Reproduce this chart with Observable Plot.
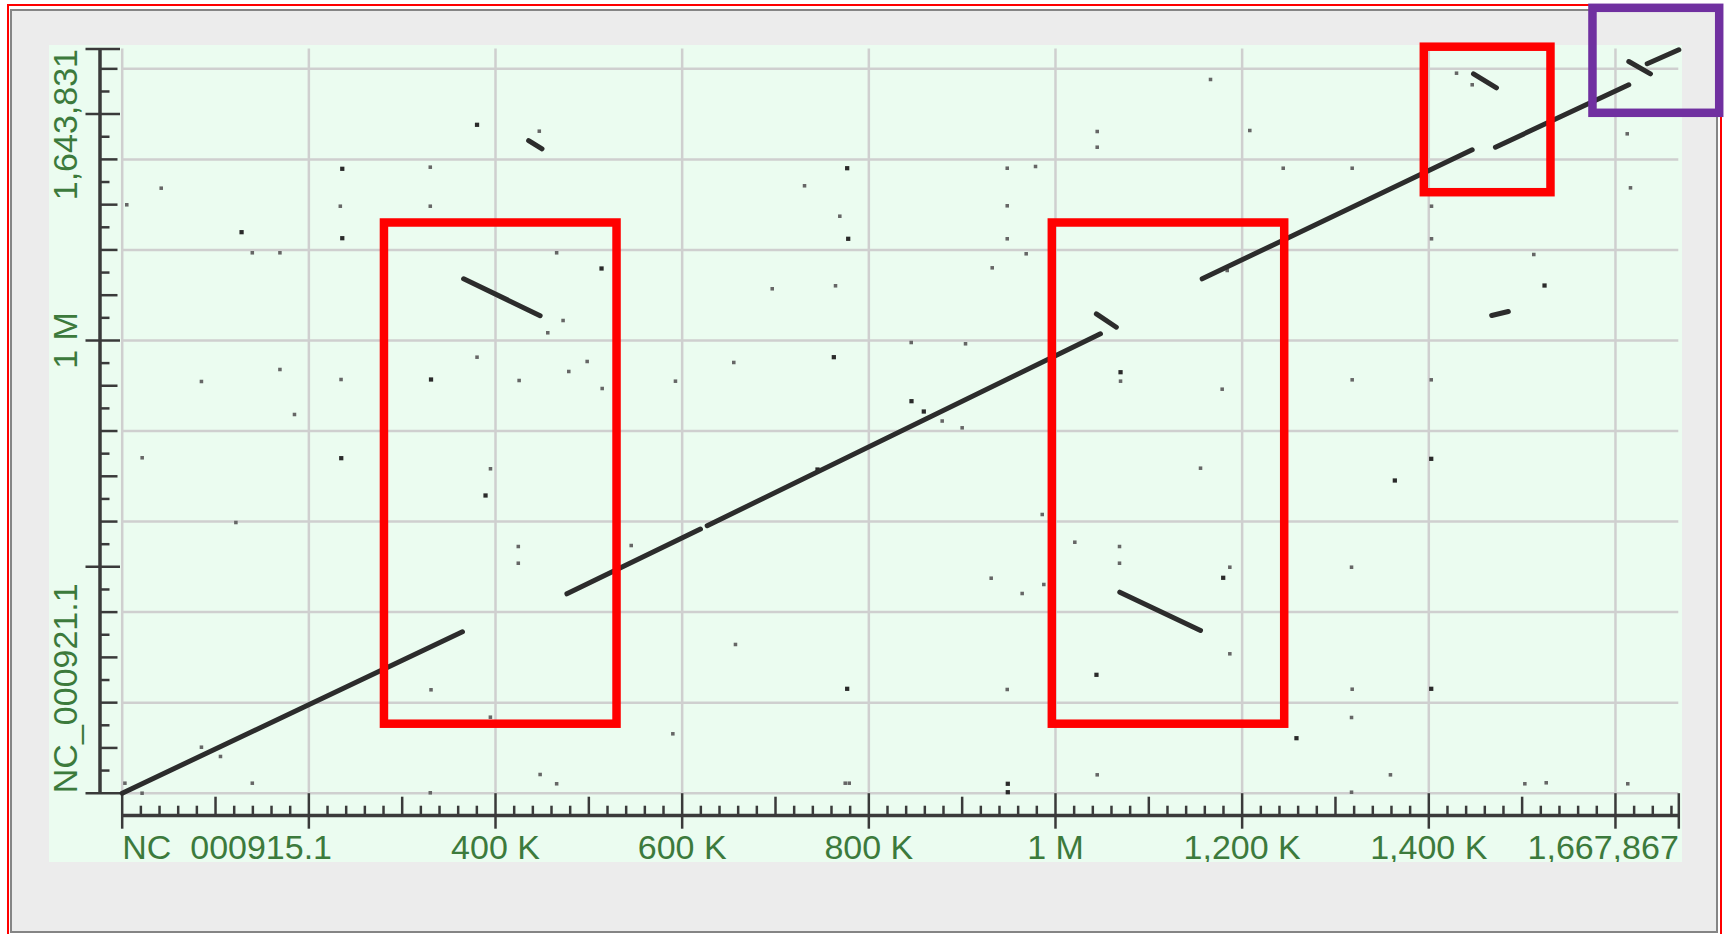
<!DOCTYPE html>
<html>
<head>
<meta charset="utf-8">
<title>NC_000915.1 vs NC_000921.1 dot plot</title>
<script src="https://cdn.jsdelivr.net/npm/d3@7"></script>
<script src="https://cdn.jsdelivr.net/npm/@observablehq/plot@0.6"></script>
<style>
  html, body { margin: 0; padding: 0; background: #ffffff; }
  #stage { position: relative; width: 1731px; height: 934px; overflow: hidden; }
  #outline { position: absolute; box-sizing: border-box; left: 7px; top: 4px; width: 1714.5px; height: 960px; border: 2.7px solid #ff0000; }
  #window { position: absolute; box-sizing: border-box; left: 10px; top: 9px; width: 1707.7px; height: 924.3px; border: 2px solid #858585; background: #ececec; }
  #panel { position: absolute; left: 49px; top: 45px; width: 1633px; height: 817px; background: #ebfcf0; }
  #footer { position: absolute; left: 12px; top: 862px; width: 1703.7px; height: 69px; background: #ececec; }
</style>
</head>
<body>
<div id="stage">
  <div id="outline"></div>
  <div id="window"></div>
  <div id="panel"></div>
</div>
<script>
// Sequence lengths (kb)
const xLength = 1667.867; // NC_000915.1
const yLength = 1643.831; // NC_000921.1

// Grid lines (kb)
const xGrid = [0, 200, 400, 600, 800, 1000, 1200, 1400, 1600];
const yGrid = [0, 200, 400, 600, 800, 1000, 1200, 1400, 1600];

// Axis ticks (kb)
const xMajorTicks = [0, 200, 400, 600, 800, 1000, 1200, 1400, 1600, xLength];
const xMidTicks = [100, 300, 500, 700, 900, 1100, 1300, 1500];
const xMinorTicks = d3.range(20, xLength, 20).filter(v => v % 100 !== 0);
const yMajorTicks = [0, 500, 1000, 1500, yLength];
const yMidTicks = [100, 200, 300, 400, 600, 700, 800, 900, 1100, 1200, 1300, 1400, 1600];
const yMinorTicks = d3.range(50, yLength, 100);

// Tick labels
const xLabelAt = [0, 400, 600, 800, 1000, 1200, 1400, xLength];
const xLabelText = ["NC_000915.1", "400 K", "600 K", "800 K", "1 M", "1,200 K", "1,400 K", "1,667,867"];
const yLabelAt = [0, 1000, yLength];
const yLabelText = ["NC_000921.1", "1 M", "1,643,831"];

// Alignment segments (kb): start and end in each genome
const hitX1 = [0, 476.5, 626.8, 365.8, 1043.8, 1068.9, 1157.2, 1471.4, 1614.3, 1634.0, 1447.9, 1467.4, 435.5];
const hitY1 = [0, 440.4, 590.8, 1136.3, 1058.9, 444.0, 1136.2, 1426.9, 1616.2, 1611.2, 1589.0, 1055.2, 1441.7];
const hitX2 = [364.6, 619.6, 1048.2, 447.8, 1065.2, 1155.4, 1446.5, 1614.3, 1637.5, 1667.9, 1472.5, 1485.2, 449.8];
const hitY2 = [356.5, 583.6, 1014.7, 1054.8, 1029.3, 359.4, 1421.2, 1564.8, 1589.0, 1642.1, 1558.1, 1064.0, 1423.4];

// Short matches (kb)
const spotX = [446.9, 330.1, 41.8, 4.9, 233.7, 330.1, 139.4, 169.0, 465.5, 472.4, 456.0, 380.2, 498.2, 478.5,
  169.0, 84.9, 234.5, 425.3, 514.3, 184.6, 21.4, 394.6, 121.8, 424.4, 424.4, 330.9, 394.5, 84.9, 105.3, 139.4,
  447.8, 465.5, 330.1, 2.9, 21.3, 731.1, 768.9, 696.5, 764.3, 932.2, 845.4, 903.6, 655.3, 592.8, 878.6, 900.0,
  545.4, 931.1, 657.1, 590.0, 774.7, 779.0, 1166.1, 1044.7, 1044.7, 1208.2, 948.3, 978.6, 1244.0, 1317.9, 948.3,
  948.3, 968.6, 1069.7, 1178.6, 1317.9, 1155.4, 985.8, 1020.7, 1068.6, 1068.6, 1186.8, 987.5, 964.3, 1317.2,
  1186.8, 948.3, 1317.9, 1317.2, 1044.7, 1358.9, 1317.2, 1429.7, 1446.5, 1612.6, 1616.1, 1402.9, 1402.9, 1512.5,
  1402.6, 1502.9, 1525.8, 1613.2, 1184.0];
const spotY = [1462.3, 1382.8, 1336.4, 1299.7, 1296.6, 1296.6, 1193.7, 1193.7, 1193.7, 1044.1, 1017.0, 963.1, 953.6, 931.5,
  935.9, 909.4, 913.8, 911.6, 893.9, 836.5, 740.9, 716.6, 597.9, 544.9, 508.0, 228.4, 167.9, 101.6, 81.1, 22.1,
  41.3, 20.8, 0.9, 22.1, 0, 1341.7, 1274.5, 1114.2, 1120.8, 1160.5, 995.5, 992.7, 951.4, 910.1, 822.1, 807.1,
  547.1, 474.9, 328.5, 131.2, 22.1, 22.1, 1576.5, 1461.6, 1426.9, 1463.8, 1380.5, 1384.3, 1380.5, 1380.5, 1297.5,
  1224.6, 1191.5, 910.1, 892.4, 913.1, 717.9, 615.6, 554.4, 544.9, 508.0, 499.2, 461.0, 441.1, 499.2,
  307.9, 229.1, 229.7, 167.2, 40.6, 40.6, 2.2, 1590.4, 1564.8, 1456.5, 1337.2, 1296.6, 1224.6, 1189.9,
  913.1, 20.8, 23.0, 20.8, 1154.6];

// Stronger short matches (kb)
const strongX = [380.2, 235.8, 127.9, 235.8, 513.6, 330.9, 234.7, 389.3, 776.8, 777.9, 762.5, 845.7, 776.8,
  1069.7, 1363.6, 1179.7, 1043.9, 1258.2, 948.9, 948.9, 1524.0, 1402.6, 1402.6, 745.0, 858.9];
const strongY = [1476.4, 1379.2, 1239.2, 1225.9, 1159.0, 913.8, 740.0, 657.6, 1380.5, 1224.6, 963.1, 865.9, 230.6,
  929.9, 690.7, 475.8, 261.5, 121.5, 20.8, 2.2, 1121.4, 738.6, 230.6, 715.0, 843.1];

// Highlighted regions (kb)
const boxX1 = [281.0, 996.6, 1395.2, 1575.9];
const boxX2 = [530.2, 1245.6, 1530.9, 1711.7];
const boxY1 = [152.4, 152.4, 1326.4, 1501.8];
const boxY2 = [1259.5, 1259.5, 1647.8, 1733.7];
const boxColor = ["#ff0000", "#ff0000", "#ff0000", "#7030a0"];

const ink = "#3a3a3a";
const labelInk = "#3c7a3c";
const font = "'Liberation Sans', Arial, sans-serif";
const blank = () => "";

const hitIdx = d3.range(hitX1.length);
const spotIdx = d3.range(spotX.length);
const strongIdx = d3.range(strongX.length);
const xLabIdx = d3.range(xLabelAt.length);
const yLabIdx = d3.range(yLabelAt.length);
const anchorOf = (i, n) => i === 0 ? "start" : i === n - 1 ? "end" : "middle";

const xLabelMarks = ["start", "middle", "end"].map(a =>
  Plot.text(xLabIdx.filter(i => anchorOf(i, xLabelAt.length) === a), {
    x: i => xLabelAt[i], text: i => xLabelText[i], textAnchor: a,
    frameAnchor: "bottom", lineAnchor: "bottom", dy: 65.6,
    fontSize: 34, fontFamily: font, fill: labelInk
  }));
const yLabelMarks = ["start", "middle", "end"].map(a =>
  Plot.text(yLabIdx.filter(i => anchorOf(i, yLabelAt.length) === a), {
    y: i => yLabelAt[i], text: i => yLabelText[i], textAnchor: a, rotate: -90,
    frameAnchor: "left", lineAnchor: "bottom", dx: -45.2,
    fontSize: 34, fontFamily: font, fill: labelInk
  }));

const boxMarks = boxColor.map((c, k) =>
  Plot.rect([k], {
    x1: i => boxX1[i], x2: i => boxX2[i], y1: i => boxY1[i], y2: i => boxY2[i],
    fill: "none", stroke: c, strokeWidth: 8.5
  }));

const chart = Plot.plot({
  width: 1731,
  height: 934,
  marginLeft: 121.7,
  marginRight: 52.7,
  marginTop: 48.5,
  marginBottom: 141.3,
  x: {domain: [0, xLength], axis: null},
  y: {domain: [0, yLength], axis: null},
  marks: [
    // grid
    Plot.ruleX(xGrid, {y1: 0, y2: yLength, stroke: "#cfcfcf", strokeWidth: 2.5}),
    Plot.ruleY(yGrid, {x1: 0, x2: xLength, stroke: "#cfcfcf", strokeWidth: 2.5}),
    // axis lines, set off from the frame
    Plot.ruleY([0], {x1: 0, x2: xLength, dy: 22.3, stroke: ink, strokeWidth: 3.5}),
    Plot.ruleX([0], {y1: 0, y2: yLength, dx: -22.2, stroke: ink, strokeWidth: 3.5}),
    // x ticks
    Plot.axisX(xMinorTicks, {anchor: "bottom", tickSize: 9.5, dy: 13, tickFormat: blank, label: null, stroke: ink, strokeWidth: 2.5}),
    Plot.axisX(xMidTicks, {anchor: "bottom", tickSize: 18, dy: 4, tickFormat: blank, label: null, stroke: ink, strokeWidth: 2.5}),
    Plot.axisX(xMajorTicks, {anchor: "bottom", tickSize: 35.5, dy: 0.5, tickFormat: blank, label: null, stroke: ink, strokeWidth: 2.5}),
    // y ticks
    Plot.axisY(yMinorTicks, {anchor: "left", tickSize: 9.5, dx: -12.2, tickFormat: blank, label: null, stroke: ink, strokeWidth: 2.5}),
    Plot.axisY(yMidTicks, {anchor: "left", tickSize: 17.5, dx: -4.2, tickFormat: blank, label: null, stroke: ink, strokeWidth: 2.5}),
    Plot.axisY(yMajorTicks, {anchor: "left", tickSize: 34.5, dx: -1.7, tickFormat: blank, label: null, stroke: ink, strokeWidth: 2.5}),
    // matches
    Plot.dot(spotIdx, {x: i => spotX[i], y: i => spotY[i], r: 2.0, symbol: "square", fill: "#666666"}),
    Plot.dot(strongIdx, {x: i => strongX[i], y: i => strongY[i], r: 2.4, symbol: "square", fill: "#2a2a2a"}),
    Plot.link(hitIdx, {
      x1: i => hitX1[i], y1: i => hitY1[i], x2: i => hitX2[i], y2: i => hitY2[i],
      stroke: "#2c2c2c", strokeWidth: 5, strokeLinecap: "round"
    }),
    // tick labels
    ...xLabelMarks,
    ...yLabelMarks,
    // highlighted regions
    ...boxMarks
  ]
});

chart.style.position = "absolute";
chart.style.left = "0px";
chart.style.top = "0px";
chart.style.background = "transparent";
chart.style.overflow = "visible";
chart.style.maxWidth = "none";
chart.style.fontFamily = font;

const stage = document.getElementById("stage");
stage.appendChild(chart);
const footer = document.createElement("div");
footer.id = "footer";
stage.appendChild(footer);
</script>
</body>
</html>
